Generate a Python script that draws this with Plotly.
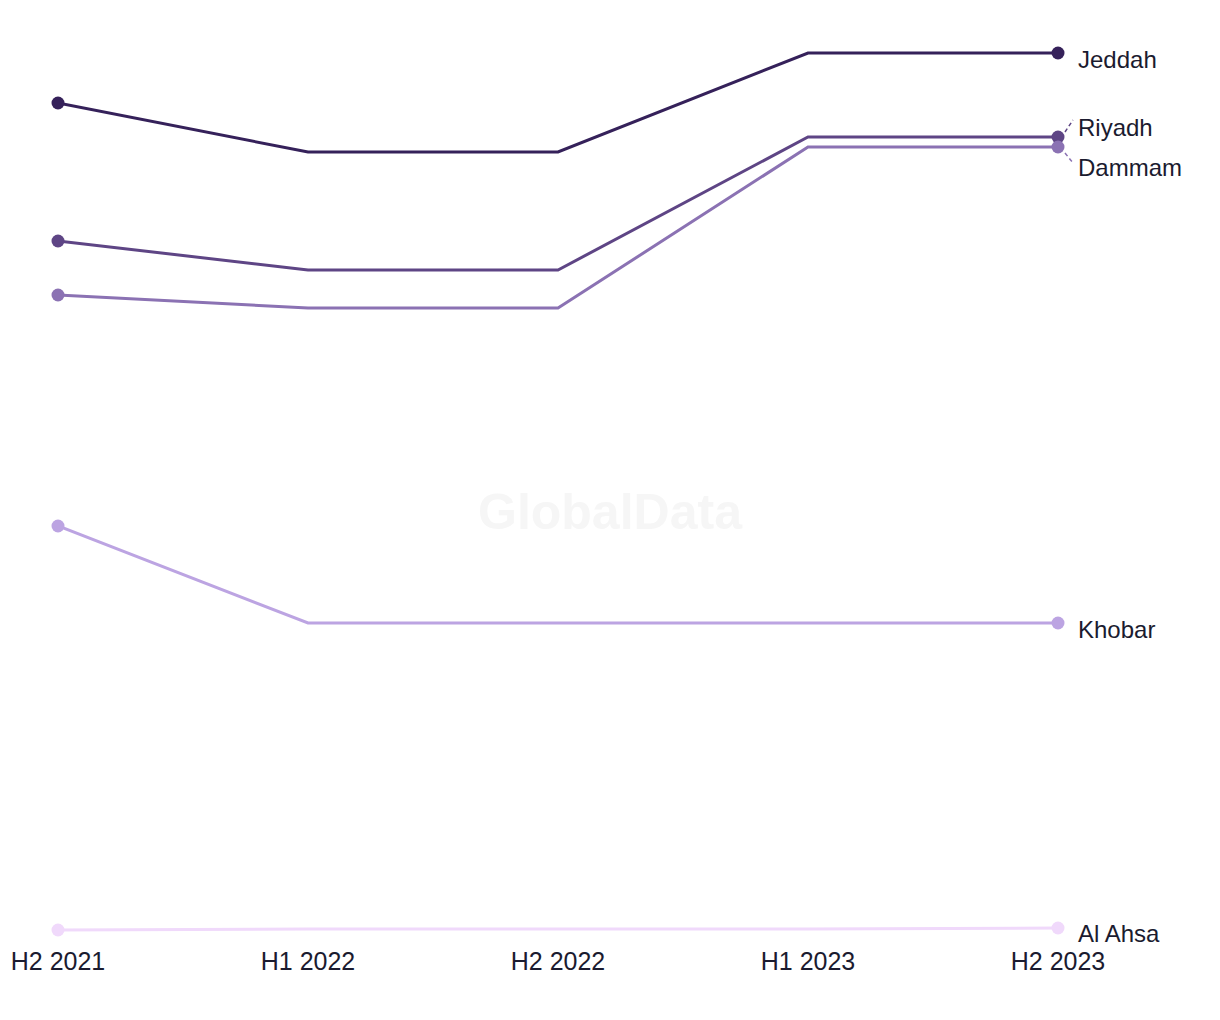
import plotly.graph_objects as go

periods = ["H2 2021", "H1 2022", "H2 2022", "H1 2023", "H2 2023"]
cities = ["Jeddah", "Riyadh", "Dammam", "Khobar", "Al Ahsa"]
jeddah = [8.47, 7.98, 7.98, 8.97, 8.97]
riyadh = [7.09, 6.80, 6.80, 8.13, 8.13]
dammam = [6.55, 6.42, 6.42, 8.03, 8.03]
khobar = [4.24, 3.27, 3.27, 3.27, 3.27]
al_ahsa = [0.20, 0.21, 0.21, 0.21, 0.22]

series = [jeddah, riyadh, dammam, khobar, al_ahsa]
colors = ["#35215a", "#5e4585", "#8b72b3", "#bca4e2", "#f0d9fb"]
label_shift = [-6, 10, -20, -6, -5]
FONT = "Liberation Sans, Arial"
TXT = "#1b1b2f"

fig = go.Figure()
for name, vals, col in zip(cities, series, colors):
    fig.add_trace(go.Scatter(
        x=list(range(len(periods))), y=vals, mode="lines", name=name,
        line=dict(color=col, width=3), showlegend=False, cliponaxis=False,
        hoverinfo="skip"))
    fig.add_trace(go.Scatter(
        x=[0, len(periods) - 1], y=[vals[0], vals[-1]], mode="markers",
        marker=dict(color=col, size=13), showlegend=False, cliponaxis=False,
        hoverinfo="skip"))

last = len(periods) - 1
for name, vals, col, sh in zip(cities, series, colors, label_shift):
    fig.add_annotation(x=last, y=vals[-1], xref="x", yref="y", text=name,
                       showarrow=False, xanchor="left", yanchor="middle",
                       xshift=18, yshift=sh,
                       font=dict(family=FONT, size=24, color=TXT))

# leader lines for Riyadh / Dammam
fig.add_shape(type="line", xref="paper", yref="y", xsizemode="pixel", ysizemode="pixel",
              xanchor=1, yanchor=riyadh[-1], x0=7, x1=15, y0=5, y1=17,
              line=dict(color=colors[1], width=1.5, dash="4px,3px"))
fig.add_shape(type="line", xref="paper", yref="y", xsizemode="pixel", ysizemode="pixel",
              xanchor=1, yanchor=dammam[-1], x0=7, x1=15, y0=-6, y1=-16,
              line=dict(color=colors[2], width=1.5, dash="4px,3px"))

fig.add_annotation(x=0.5, y=0.5, xref="paper", yref="paper", text="<b>GlobalData</b>",
                   showarrow=False, xshift=52, yshift=-32,
                   font=dict(family=FONT, size=50, color="#f6f6f6"))

fig.update_layout(
    width=1220, height=1020, autosize=False,
    paper_bgcolor="white", plot_bgcolor="white",
    margin=dict(l=58, r=162, t=20, b=80),
    xaxis=dict(range=[0, last], tickmode="array", tickvals=list(range(len(periods))),
               ticktext=periods, showgrid=False, zeroline=False, showline=False,
               ticks="", ticklen=0, ticklabelstandoff=4,
               tickfont=dict(family=FONT, size=25, color=TXT)),
    yaxis=dict(range=[0.1, 9.3], visible=False, showgrid=False, zeroline=False),
)
fig.write_html("out.html")
